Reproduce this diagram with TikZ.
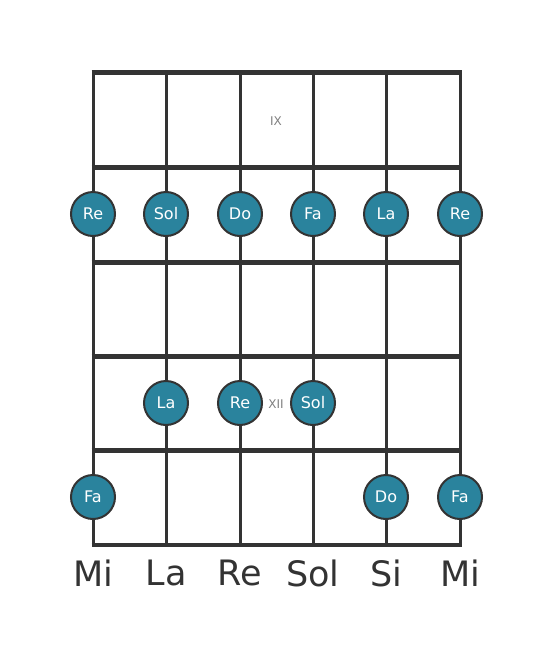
\documentclass[tikz,border=0pt]{standalone}
\usepackage{fontspec}
\setmainfont{DejaVu Sans}
\definecolor{notefill}{HTML}{2A839D}
\definecolor{lineclr}{HTML}{333333}
\tikzset{
  note/.style={circle, draw=lineclr, line width=2pt, fill=notefill, minimum size=44pt, inner sep=0pt, text=white, font=\fontsize{16}{16}\selectfont},
  fretline/.style={draw=lineclr, line width=5pt},
  stringline/.style={draw=lineclr, line width=3pt},
  strlabel/.style={text=lineclr, font=\fontsize{35}{35}\selectfont, inner sep=0pt},
  fretnum/.style={text=gray, font=\fontsize{12}{12}\selectfont, inner sep=0pt}
}
\begin{document}
\begin{tikzpicture}[x=1pt,y=-1pt]
\useasboundingbox (0,0) rectangle (553,656);
% strings
\foreach \i/\x in {1/93,2/166,3/240,4/313,5/386,6/460} {
  \coordinate (t\i) at (\x,72);
  \coordinate (b\i) at (\x,545);
  \draw[stringline] (t\i) -- (b\i);
}
% frets
\foreach \j/\y in {0/72,1/167,2/262,3/356,4/450} {
  \coordinate (fl\j) at (91.5,\y);
  \coordinate (fr\j) at (461.5,\y);
  \draw[fretline] (fl\j) -- (fr\j);
}
\coordinate (bl) at (91.5,545);
\coordinate (br) at (461.5,545);
\draw[draw=lineclr, line width=4pt] (bl) -- (br);
% fret numbers
\node[fretnum] (ix) at (276,121) {IX};
\node[fretnum] (xii) at (276,404) {XII};
% notes
\node[note] (n1) at (93,214) {Re};
\node[note] (n2) at (166,214) {Sol};
\node[note] (n3) at (240,214) {Do};
\node[note] (n4) at (313,214) {Fa};
\node[note] (n5) at (386,214) {La};
\node[note] (n6) at (460,214) {Re};
\node[note] (n7) at (166,403) {La};
\node[note] (n8) at (240,403) {Re};
\node[note] (n9) at (313,403) {Sol};
\node[note] (n10) at (93,497) {Fa};
\node[note] (n11) at (386,497) {Do};
\node[note] (n12) at (460,497) {Fa};
% string names
\node[strlabel] (s1) at (93,573) {Mi};
\node[strlabel] (s2) at (166,573) {La};
\node[strlabel] (s3) at (240,573) {Re};
\node[strlabel] (s4) at (313,573) {Sol};
\node[strlabel] (s5) at (386,573) {Si};
\node[strlabel] (s6) at (460,573) {Mi};
\end{tikzpicture}
\end{document}
